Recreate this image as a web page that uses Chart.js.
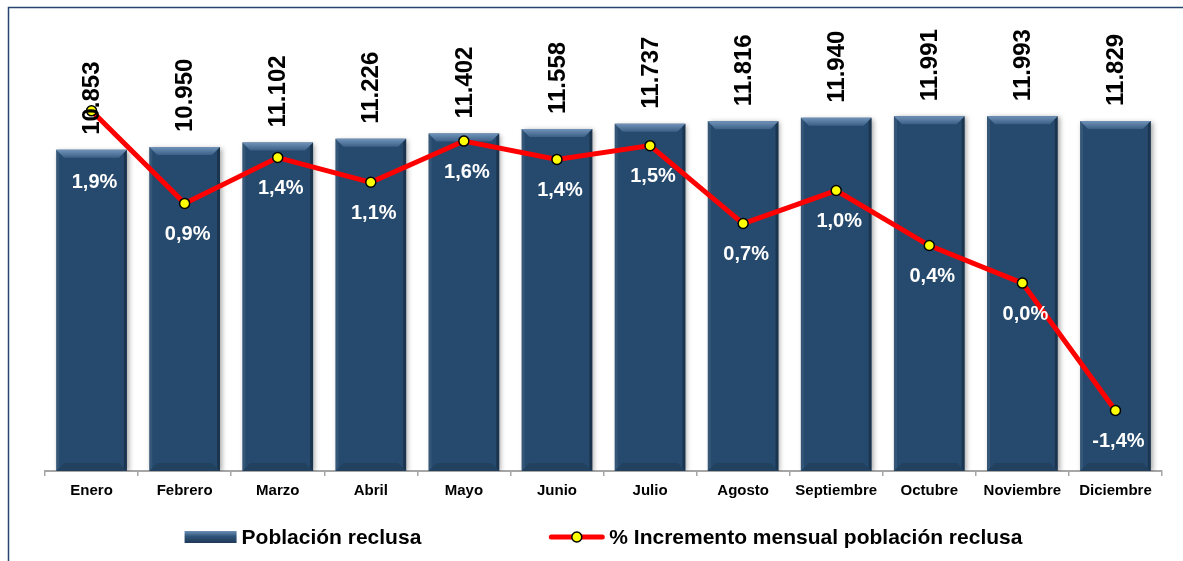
<!DOCTYPE html>
<html>
<head>
<meta charset="utf-8">
<script src="https://cdn.jsdelivr.net/npm/chart.js@4"></script>
<style>
    html, body { margin: 0; padding: 0; background: #fff; overflow: hidden; }
    #wrap { position: relative; width: 1183px; height: 561px; }
</style>
</head>
<body>
<div id="wrap"><canvas id="myChart" width="1183" height="561"></canvas></div>
<script>
const meses = ['Enero', 'Febrero', 'Marzo', 'Abril', 'Mayo', 'Junio', 'Julio', 'Agosto', 'Septiembre', 'Octubre', 'Noviembre', 'Diciembre'];
const poblacion = [10853, 10950, 11102, 11226, 11402, 11558, 11737, 11816, 11940, 11991, 11993, 11829];
const incremento = [1.90, 0.89, 1.39, 1.12, 1.57, 1.37, 1.52, 0.67, 1.03, 0.43, 0.02, -1.37];

const FONT = '"Liberation Sans", Arial, sans-serif';

function fmtMiles(v) {
    return v.toString().replace(/\B(?=(\d{3})+(?!\d))/g, '.');
}
function fmtPct(v) {
    return v.toFixed(1).replace('.', ',') + '%';
}

// frame around the chart (only top and left visible in the original)
const framePlugin = {
    id: 'frame',
    beforeDraw(chart) {
        const ctx = chart.ctx;
        ctx.save();
        ctx.fillStyle = '#fff';
        ctx.fillRect(0, 0, chart.width, chart.height);
        ctx.strokeStyle = '#27466f';
        ctx.lineWidth = 1.5;
        ctx.beginPath();
        ctx.moveTo(8.5, chart.height);
        ctx.lineTo(8.5, 7.5);
        ctx.lineTo(chart.width, 7.5);
        ctx.stroke();
        ctx.restore();
    }
};

// shadow + bevel on the bars
const bevelPlugin = {
    id: 'bevel',
    beforeDatasetDraw(chart, args) {
        if (args.index !== 0) return;
        const ctx = chart.ctx;
        ctx.save();
        ctx.shadowColor = 'rgba(0,0,0,0.35)';
        ctx.shadowBlur = 5;
        ctx.shadowOffsetX = 2;
        ctx.shadowOffsetY = 1;
    },
    afterDatasetDraw(chart, args) {
        if (args.index !== 0) return;
        const ctx = chart.ctx;
        ctx.restore();
        ctx.save();
        chart.getDatasetMeta(0).data.forEach(bar => {
            const l = bar.x - bar.width / 2, r = bar.x + bar.width / 2;
            const t = bar.y, b = bar.base;
            const bv = 8, sv = 3;
            const g = ctx.createLinearGradient(0, t, 0, t + bv);
            g.addColorStop(0, '#7193ba');
            g.addColorStop(1, '#3b5f86');
            ctx.fillStyle = g;
            ctx.beginPath();
            ctx.moveTo(l, t); ctx.lineTo(r, t); ctx.lineTo(r - bv, t + bv); ctx.lineTo(l + bv, t + bv);
            ctx.closePath(); ctx.fill();
            ctx.fillStyle = 'rgba(255,255,255,0.07)';
            ctx.beginPath();
            ctx.moveTo(l, t); ctx.lineTo(l + sv, t + sv); ctx.lineTo(l + sv, b - sv); ctx.lineTo(l, b);
            ctx.closePath(); ctx.fill();
            ctx.fillStyle = 'rgba(0,0,0,0.28)';
            ctx.beginPath();
            ctx.moveTo(r, t); ctx.lineTo(r - sv, t + sv); ctx.lineTo(r - sv, b - sv); ctx.lineTo(r, b);
            ctx.closePath(); ctx.fill();
            ctx.fillStyle = 'rgba(0,0,0,0.12)';
            ctx.beginPath();
            ctx.moveTo(l, b); ctx.lineTo(r, b); ctx.lineTo(r - bv, b - bv); ctx.lineTo(l + bv, b - bv);
            ctx.closePath(); ctx.fill();
        });
        ctx.restore();
    }
};

// value labels
const labelsPlugin = {
    id: 'valueLabels',
    afterDatasetsDraw(chart) {
        const ctx = chart.ctx;
        const bars = chart.getDatasetMeta(0).data;
        const pts = chart.getDatasetMeta(1).data;
        ctx.save();
        ctx.fillStyle = '#000';
        ctx.font = 'bold 24px ' + FONT;
        ctx.textAlign = 'left';
        ctx.textBaseline = 'middle';
        bars.forEach((bar, i) => {
            ctx.save();
            ctx.translate(bar.x + 1, bar.y - 15);
            ctx.rotate(-Math.PI / 2);
            ctx.fillText(fmtMiles(poblacion[i]), 0, 0);
            ctx.restore();
        });
        ctx.fillStyle = '#fff';
        ctx.font = 'bold 20px ' + FONT;
        ctx.textAlign = 'center';
        pts.forEach((p, i) => {
            const y = Math.max(p.y + 31, bars[i].y + 33);
            ctx.fillText(fmtPct(incremento[i]), p.x + 3, y);
        });
        ctx.restore();
    }
};

// legend drawn below the axis
const legendPlugin = {
    id: 'customLegend',
    afterDraw(chart) {
        const ctx = chart.ctx;
        const ds = chart.data.datasets;
        const yc = 537;
        ctx.save();
        ctx.font = 'bold 21px ' + FONT;
        ctx.textBaseline = 'middle';
        ctx.textAlign = 'left';
        const w0 = ctx.measureText(ds[0].label).width;
        const w1 = ctx.measureText(ds[1].label).width;
        const total = 52 + 5 + w0 + 128 + 55 + 5 + w1;
        const area = chart.chartArea;
        let x = (area.left + area.right) / 2 - total / 2;

        const g = ctx.createLinearGradient(0, yc - 6, 0, yc + 6);
        g.addColorStop(0, '#6d8fb5');
        g.addColorStop(0.45, '#2f5479');
        g.addColorStop(1, '#1f3a58');
        ctx.fillStyle = g;
        ctx.fillRect(x, yc - 6, 52, 12);
        ctx.fillStyle = '#000';
        ctx.fillText(ds[0].label, x + 57, yc + 1);

        x += 52 + 5 + w0 + 128;
        ctx.strokeStyle = '#ff0000';
        ctx.lineWidth = 5;
        ctx.lineCap = 'round';
        ctx.beginPath();
        ctx.moveTo(x + 2, yc); ctx.lineTo(x + 53, yc);
        ctx.stroke();
        ctx.beginPath();
        ctx.arc(x + 27.5, yc, 5, 0, Math.PI * 2);
        ctx.fillStyle = '#ffff00';
        ctx.fill();
        ctx.lineWidth = 1.5;
        ctx.strokeStyle = '#000';
        ctx.stroke();
        ctx.fillStyle = '#000';
        ctx.fillText(ds[1].label, x + 60, yc + 1);
        ctx.restore();
    }
};

const ctx = document.getElementById('myChart').getContext('2d');
const chart = new Chart(ctx, {
    type: 'bar',
    data: {
        labels: meses,
        datasets: [{
            label: 'Población reclusa',
            data: poblacion,
            backgroundColor: '#264a6d',
            borderWidth: 0,
            barPercentage: 0.76,
            categoryPercentage: 1,
            yAxisID: 'y',
            order: 2
        }, {
            type: 'line',
            label: '% Incremento mensual población reclusa',
            data: incremento,
            borderColor: '#ff0000',
            borderWidth: 5,
            pointBackgroundColor: '#ffff00',
            pointBorderColor: '#000',
            pointBorderWidth: 1.5,
            pointRadius: 5,
            tension: 0,
            yAxisID: 'y1',
            order: 1
        }]
    },
    options: {
        responsive: false,
        animation: false,
        layout: { padding: { left: 45, right: 21, top: 10, bottom: 55 } },
        plugins: {
            legend: { display: false },
            tooltip: { enabled: false }
        },
        scales: {
            x: {
                grid: {
                    display: true,
                    drawOnChartArea: false,
                    drawTicks: true,
                    tickLength: 5,
                    color: '#a6a6a6',
                    lineWidth: 1.5
                },
                border: { display: true, color: '#a6a6a6', width: 2 },
                ticks: {
                    color: '#000',
                    padding: 6,
                    maxRotation: 0,
                    autoSkip: false,
                    font: { family: FONT, size: 15, weight: 'bold' }
                }
            },
            y: { display: false, min: 0, max: 15580 },
            y1: { display: false, min: -2.03, max: 3.0, position: 'right' }
        }
    },
    plugins: [framePlugin, bevelPlugin, labelsPlugin, legendPlugin]
});
</script>
</body>
</html>
